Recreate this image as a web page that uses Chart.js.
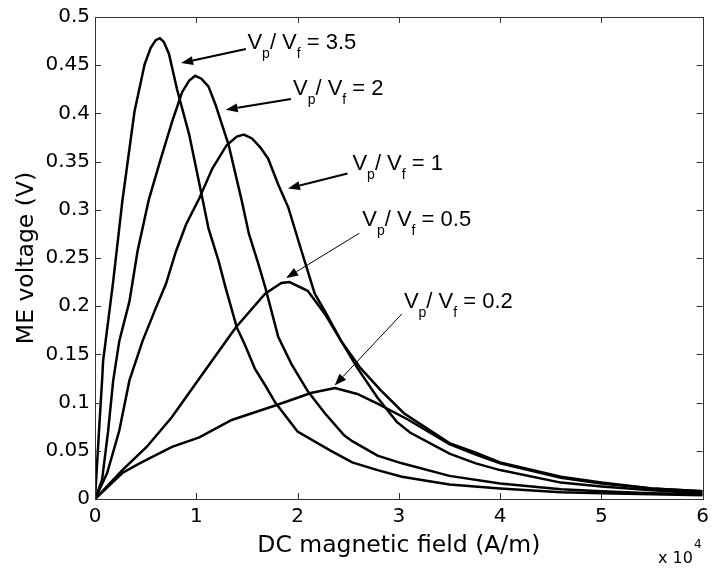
<!DOCTYPE html>
<html><head><meta charset="utf-8">
<script src="https://cdn.jsdelivr.net/npm/chart.js@4/dist/chart.umd.min.js"></script>
<style>html,body{margin:0;padding:0;background:#fff;}#wrap{width:715px;height:572px;}</style>
</head><body><div id="wrap"><canvas id="c" width="715" height="572"></canvas></div>
<script>
// ---- data (x in units of 10^4 A/m, y in V) ----
const xTickLabels = ['0','1','2','3','4','5','6'];
const yTickLabels = ['0','0.05','0.1','0.15','0.2','0.25','0.3','0.35','0.4','0.45','0.5'];
const ratios = ['3.5','2','1','0.5','0.2'];

const field35 = [0,0.045,0.07,0.08,0.18,0.27,0.39,0.49,0.55,0.60,0.64,0.68,0.73,0.81,0.93,1.06,1.12,1.22,1.29,1.40,1.48,1.58,1.68,1.78,2.0,2.33,2.54,2.79,3.03,3.5,4.0,4.6,5.0,5.5,6.0];
const volt35  = [0,0.08,0.123,0.143,0.226,0.309,0.402,0.451,0.468,0.476,0.478,0.474,0.462,0.425,0.378,0.312,0.281,0.247,0.219,0.178,0.160,0.135,0.118,0.100,0.070,0.050,0.038,0.030,0.023,0.015,0.011,0.007,0.006,0.005,0.004];

const field2 = [0,0.07,0.13,0.18,0.24,0.34,0.42,0.53,0.65,0.76,0.86,0.93,0.99,1.05,1.12,1.19,1.32,1.45,1.52,1.61,1.68,1.81,1.94,2.10,2.27,2.46,2.54,2.79,3.03,3.5,4.0,4.6,5.0,5.5,6.0];
const volt2  = [0,0.02,0.071,0.123,0.164,0.205,0.257,0.310,0.353,0.391,0.422,0.434,0.439,0.436,0.428,0.409,0.367,0.309,0.275,0.245,0.220,0.168,0.140,0.112,0.089,0.066,0.060,0.045,0.037,0.024,0.016,0.010,0.008,0.006,0.005];

const field1 = [0,0.12,0.24,0.34,0.47,0.60,0.70,0.80,0.90,1.03,1.16,1.30,1.40,1.47,1.55,1.63,1.71,1.81,1.91,2.04,2.17,2.27,2.43,2.62,2.82,3.05,3.5,3.76,4.0,4.6,5.0,5.5,6.0];
const volt1  = [0,0.027,0.071,0.123,0.164,0.198,0.223,0.257,0.285,0.312,0.343,0.367,0.376,0.378,0.374,0.365,0.353,0.326,0.302,0.257,0.213,0.195,0.164,0.136,0.113,0.089,0.058,0.048,0.038,0.023,0.017,0.011,0.008];

const field05 = [0,0.27,0.51,0.76,1.03,1.39,1.68,1.84,1.92,2.10,2.27,2.43,2.59,2.79,2.98,3.11,3.5,3.76,4.0,4.6,5.0,5.5,6.0];
const volt05  = [0,0.030,0.054,0.085,0.125,0.178,0.213,0.224,0.225,0.216,0.192,0.164,0.136,0.105,0.080,0.069,0.047,0.037,0.030,0.017,0.013,0.009,0.006];

const field02 = [0,0.27,0.44,0.76,1.03,1.35,1.78,2.0,2.13,2.37,2.59,2.79,3.08,3.5,3.76,4.0,4.6,5.0,5.5,6.0];
const volt02  = [0,0.027,0.037,0.054,0.064,0.082,0.097,0.105,0.110,0.115,0.109,0.099,0.083,0.057,0.046,0.037,0.022,0.016,0.011,0.008];

// ---- annotation placement (data coordinates) ----
const notes = [
  {label:'3.5', text:[1.505,0.4667], from:[1.49,0.4667], tip:[0.85,0.4522], w:2},
  {label:'2',   text:[1.955,0.4192], from:[1.935,0.415], tip:[1.29,0.4037], w:2},
  {label:'1',   text:[2.542,0.3417], from:[2.493,0.3376], tip:[1.906,0.3221], w:2},
  {label:'0.5', text:[2.639,0.2829], from:[2.61,0.2757], tip:[1.887,0.2292], w:1},
  {label:'0.2', text:[3.05,0.1982],  from:[3.03,0.192],  tip:[2.366,0.1177], w:1}
];

function pts(xs, ys){ return xs.map((x,i)=>({x:x, y:ys[i]})); }
const seriesData = [pts(field35,volt35), pts(field2,volt2), pts(field1,volt1), pts(field05,volt05), pts(field02,volt02)];

const boxPlugin = {
  id:'box',
  afterDraw(chart){
    const ctx = chart.ctx, a = chart.chartArea, xs = chart.scales.x, ys = chart.scales.y;
    ctx.save();
    ctx.strokeStyle = '#333'; ctx.lineWidth = 1;
    ctx.strokeRect(Math.round(a.left)+0.5, Math.round(a.top)+0.5, Math.round(a.right-a.left), Math.round(a.bottom-a.top));
    ctx.beginPath();
    xs.ticks.forEach(t=>{ const p = Math.round(xs.getPixelForValue(t.value))+0.5;
      ctx.moveTo(p,a.bottom); ctx.lineTo(p,a.bottom-6); ctx.moveTo(p,a.top); ctx.lineTo(p,a.top+6); });
    ys.ticks.forEach(t=>{ const p = Math.round(ys.getPixelForValue(t.value))+0.5;
      ctx.moveTo(a.left,p); ctx.lineTo(a.left+6,p); ctx.moveTo(a.right,p); ctx.lineTo(a.right-6,p); });
    ctx.stroke();
    // exponent
    ctx.fillStyle = '#000'; ctx.textBaseline = 'alphabetic'; ctx.textAlign = 'left';
    ctx.font = '16px "DejaVu Sans"';
    ctx.fillText('x 10', 658, 563);
    const w = ctx.measureText('x 10').width;
    ctx.font = '12px "DejaVu Sans"';
    ctx.fillText('4', 658 + w + 1, 548);
    // annotations
    notes.forEach(n=>{
      const tx = xs.getPixelForValue(n.text[0]), ty = ys.getPixelForValue(n.text[1]);
      const fx = xs.getPixelForValue(n.from[0]), fy = ys.getPixelForValue(n.from[1]);
      const px = xs.getPixelForValue(n.tip[0]), py = ys.getPixelForValue(n.tip[1]);
      const ang = Math.atan2(py-fy, px-fx), L = 12, H = 4.5;
      const bx = px - L*Math.cos(ang), by = py - L*Math.sin(ang);
      ctx.strokeStyle = '#000'; ctx.lineWidth = n.w;
      ctx.beginPath(); ctx.moveTo(fx,fy); ctx.lineTo(bx,by); ctx.stroke();
      ctx.beginPath(); ctx.moveTo(px,py);
      ctx.lineTo(bx + H*Math.sin(ang), by - H*Math.cos(ang));
      ctx.lineTo(bx - H*Math.sin(ang), by + H*Math.cos(ang));
      ctx.closePath(); ctx.fill();
      let x = tx;
      const big = '22px "Liberation Sans"', small = '14px "Liberation Sans"';
      const seg = [['V',big,0],['p',small,9],['/ V',big,0],['f',small,9],[' = '+n.label,big,0]];
      seg.forEach(s=>{ ctx.font = s[1]; ctx.fillText(s[0], x, ty + s[2]); x += ctx.measureText(s[0]).width; });
    });
    ctx.restore();
  }
};

new Chart(document.getElementById('c'), {
  type:'scatter',
  data:{ datasets: seriesData.map((d,i)=>({
    label:'Vp/Vf = '+ratios[i], data:d, showLine:true, borderColor:'#000', backgroundColor:'#000',
    borderWidth:2.5, pointRadius:0, tension:0, fill:false })) },
  options:{
    responsive:false, animation:false,
    layout:{ padding:{ left:0, right:6, top:15, bottom:0 } },
    plugins:{ legend:{display:false}, tooltip:{enabled:false} },
    scales:{
      x:{ type:'linear', min:0, max:6,
        grid:{display:false, drawTicks:false}, border:{display:false},
        ticks:{ stepSize:1, maxRotation:0, padding:6, color:'#000',
          font:{family:'DejaVu Sans', size:20}, callback:v=>xTickLabels[Math.round(v)] },
        title:{ display:true, text:'DC magnetic field (A/m)', color:'#000',
          font:{family:'DejaVu Sans', size:23.5}, padding:{top:0, bottom:12} },
        afterFit:s=>{ s.height = 73; } },
      y:{ type:'linear', min:0, max:0.5,
        grid:{display:false, drawTicks:false}, border:{display:false},
        ticks:{ stepSize:0.05, padding:5, color:'#000',
          font:{family:'DejaVu Sans', size:20}, callback:v=>yTickLabels[Math.round(v/0.05)] },
        title:{ display:true, text:'ME voltage (V)', color:'#000',
          font:{family:'DejaVu Sans', size:23.5}, padding:{top:12.5, bottom:0} },
        afterFit:s=>{ s.width = 95; } }
    }
  },
  plugins:[boxPlugin]
});
</script></body></html>
